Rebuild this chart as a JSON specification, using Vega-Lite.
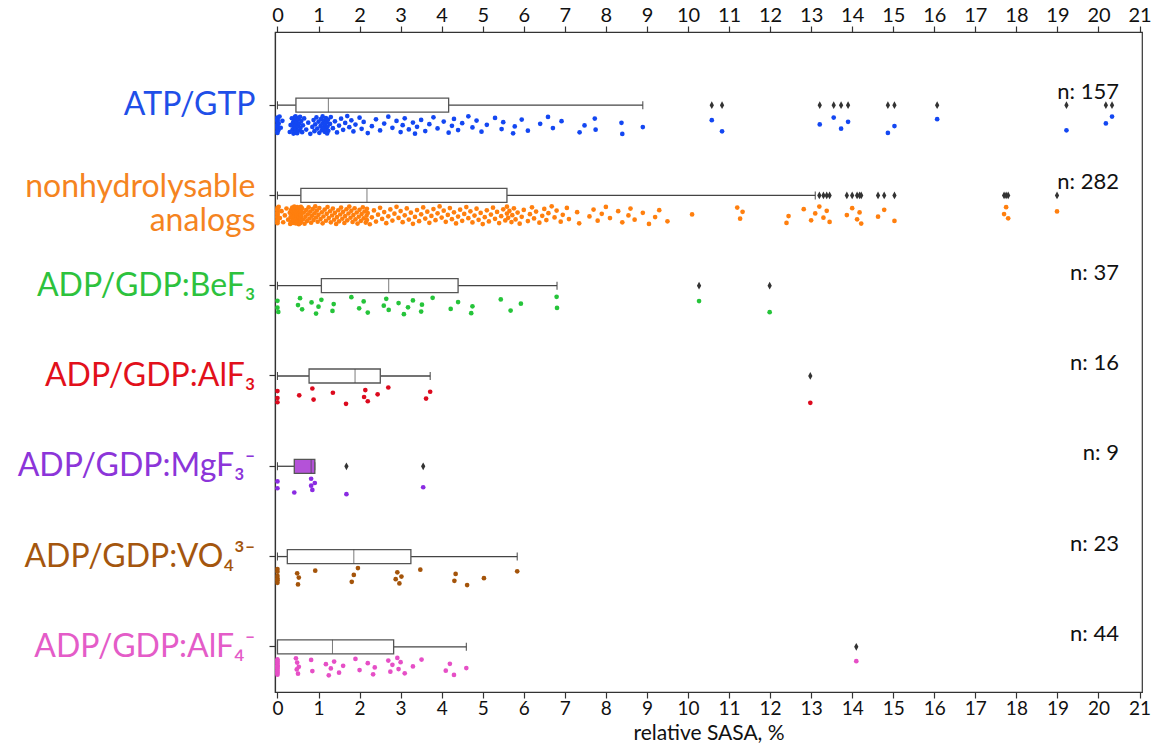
{
"$schema": "https://vega.github.io/schema/vega-lite/v6.json",
"width": 867, "height": 660,
"autosize": "none",
"padding": {"left": 275, "top": 32, "right": 12, "bottom": 52},
"background": "white",
"config": {"view": {"stroke": "#333", "strokeWidth": 1.2}, "font": "Lato",
  "axis": {"labelFont": "Lato", "titleFont": "Lato", "domainColor": "#333", "tickColor": "#333", "titleColor": "#111", "grid": false, "domainWidth": 1.2, "tickWidth": 1.2}},
"data": {"values": [
{"g":"ATP","v":0},{"g":"ATP","v":0},{"g":"ATP","v":0},{"g":"ATP","v":0},{"g":"ATP","v":0},{"g":"ATP","v":0},{"g":"ATP","v":0},{"g":"ATP","v":0},{"g":"ATP","v":0},{"g":"ATP","v":0},
{"g":"ATP","v":0.02},{"g":"ATP","v":0.03},{"g":"ATP","v":0.05},{"g":"ATP","v":0.08},{"g":"ATP","v":0.12},
{"g":"ATP","v":0.3},{"g":"ATP","v":0.32},{"g":"ATP","v":0.35},{"g":"ATP","v":0.37},{"g":"ATP","v":0.38},{"g":"ATP","v":0.39},{"g":"ATP","v":0.4},{"g":"ATP","v":0.4},{"g":"ATP","v":0.41},{"g":"ATP","v":0.41},{"g":"ATP","v":0.42},{"g":"ATP","v":0.42},{"g":"ATP","v":0.43},{"g":"ATP","v":0.43},{"g":"ATP","v":0.43},{"g":"ATP","v":0.44},{"g":"ATP","v":0.44},{"g":"ATP","v":0.44},{"g":"ATP","v":0.44},{"g":"ATP","v":0.45},{"g":"ATP","v":0.45},{"g":"ATP","v":0.45},{"g":"ATP","v":0.45},{"g":"ATP","v":0.45},{"g":"ATP","v":0.45},
{"g":"ATP","v":0.47},{"g":"ATP","v":0.48},{"g":"ATP","v":0.5},{"g":"ATP","v":0.5},{"g":"ATP","v":0.52},{"g":"ATP","v":0.53},{"g":"ATP","v":0.55},{"g":"ATP","v":0.56},{"g":"ATP","v":0.58},{"g":"ATP","v":0.6},{"g":"ATP","v":0.62},{"g":"ATP","v":0.65},{"g":"ATP","v":0.7},{"g":"ATP","v":0.75},{"g":"ATP","v":0.8},{"g":"ATP","v":0.85},{"g":"ATP","v":0.88},{"g":"ATP","v":0.9},{"g":"ATP","v":0.92},{"g":"ATP","v":0.95},{"g":"ATP","v":0.97},{"g":"ATP","v":1.0},{"g":"ATP","v":1.02},{"g":"ATP","v":1.05},{"g":"ATP","v":1.06},{"g":"ATP","v":1.08},{"g":"ATP","v":1.1},{"g":"ATP","v":1.1},{"g":"ATP","v":1.12},{"g":"ATP","v":1.13},{"g":"ATP","v":1.15},{"g":"ATP","v":1.16},{"g":"ATP","v":1.18},{"g":"ATP","v":1.19},{"g":"ATP","v":1.2},{"g":"ATP","v":1.21},{"g":"ATP","v":1.22},{"g":"ATP","v":1.23},{"g":"ATP","v":1.24},
{"g":"ATP","v":1.28},{"g":"ATP","v":1.3},{"g":"ATP","v":1.35},{"g":"ATP","v":1.4},{"g":"ATP","v":1.45},{"g":"ATP","v":1.5},{"g":"ATP","v":1.55},{"g":"ATP","v":1.6},{"g":"ATP","v":1.65},{"g":"ATP","v":1.7},{"g":"ATP","v":1.75},{"g":"ATP","v":1.8},{"g":"ATP","v":1.85},{"g":"ATP","v":1.9},{"g":"ATP","v":2.0},{"g":"ATP","v":2.05},{"g":"ATP","v":2.1},{"g":"ATP","v":2.2},{"g":"ATP","v":2.3},{"g":"ATP","v":2.4},{"g":"ATP","v":2.5},{"g":"ATP","v":2.6},{"g":"ATP","v":2.7},{"g":"ATP","v":2.8},{"g":"ATP","v":2.9},{"g":"ATP","v":3.0},{"g":"ATP","v":3.05},{"g":"ATP","v":3.1},{"g":"ATP","v":3.2},{"g":"ATP","v":3.3},{"g":"ATP","v":3.35},{"g":"ATP","v":3.4},{"g":"ATP","v":3.5},{"g":"ATP","v":3.6},{"g":"ATP","v":3.7},{"g":"ATP","v":3.8},{"g":"ATP","v":3.9},{"g":"ATP","v":4.05},{"g":"ATP","v":4.17},
{"g":"ATP","v":4.25},{"g":"ATP","v":4.3},{"g":"ATP","v":4.4},{"g":"ATP","v":4.5},{"g":"ATP","v":4.65},{"g":"ATP","v":4.75},{"g":"ATP","v":4.85},{"g":"ATP","v":4.97},{"g":"ATP","v":5.1},{"g":"ATP","v":5.3},{"g":"ATP","v":5.46},{"g":"ATP","v":5.5},{"g":"ATP","v":5.74},{"g":"ATP","v":5.78},{"g":"ATP","v":5.95},{"g":"ATP","v":6.1},{"g":"ATP","v":6.4},{"g":"ATP","v":6.59},{"g":"ATP","v":6.71},{"g":"ATP","v":6.92},{"g":"ATP","v":7.36},{"g":"ATP","v":7.48},{"g":"ATP","v":7.73},{"g":"ATP","v":7.75},{"g":"ATP","v":8.38},{"g":"ATP","v":8.4},{"g":"ATP","v":8.9},
{"g":"ATP","v":10.58},{"g":"ATP","v":10.83},{"g":"ATP","v":13.21},{"g":"ATP","v":13.55},{"g":"ATP","v":13.73},{"g":"ATP","v":13.9},{"g":"ATP","v":14.87},{"g":"ATP","v":15.03},{"g":"ATP","v":16.07},{"g":"ATP","v":19.22},{"g":"ATP","v":20.18},{"g":"ATP","v":20.33},
{"g":"NHA","v":0},{"g":"NHA","v":0},{"g":"NHA","v":0},{"g":"NHA","v":0},{"g":"NHA","v":0},{"g":"NHA","v":0},{"g":"NHA","v":0},{"g":"NHA","v":0},{"g":"NHA","v":0},{"g":"NHA","v":0},{"g":"NHA","v":0},{"g":"NHA","v":0},
{"g":"NHA","v":0.03},{"g":"NHA","v":0.06},{"g":"NHA","v":0.1},{"g":"NHA","v":0.14},{"g":"NHA","v":0.18},{"g":"NHA","v":0.22},{"g":"NHA","v":0.26},{"g":"NHA","v":0.3},
{"g":"NHA","v":0.31},{"g":"NHA","v":0.32},{"g":"NHA","v":0.33},{"g":"NHA","v":0.34},{"g":"NHA","v":0.35},{"g":"NHA","v":0.36},{"g":"NHA","v":0.37},{"g":"NHA","v":0.38},{"g":"NHA","v":0.38},{"g":"NHA","v":0.39},
{"g":"NHA","v":0.4},{"g":"NHA","v":0.4},{"g":"NHA","v":0.41},{"g":"NHA","v":0.41},{"g":"NHA","v":0.42},{"g":"NHA","v":0.42},{"g":"NHA","v":0.43},{"g":"NHA","v":0.43},{"g":"NHA","v":0.44},{"g":"NHA","v":0.44},
{"g":"NHA","v":0.45},{"g":"NHA","v":0.45},{"g":"NHA","v":0.46},{"g":"NHA","v":0.46},{"g":"NHA","v":0.47},{"g":"NHA","v":0.47},{"g":"NHA","v":0.48},{"g":"NHA","v":0.48},{"g":"NHA","v":0.49},{"g":"NHA","v":0.49},
{"g":"NHA","v":0.5},{"g":"NHA","v":0.5},{"g":"NHA","v":0.51},{"g":"NHA","v":0.51},{"g":"NHA","v":0.52},{"g":"NHA","v":0.52},{"g":"NHA","v":0.53},{"g":"NHA","v":0.53},{"g":"NHA","v":0.54},{"g":"NHA","v":0.54},
{"g":"NHA","v":0.55},{"g":"NHA","v":0.55},{"g":"NHA","v":0.55},{"g":"NHA","v":0.56},{"g":"NHA","v":0.56},{"g":"NHA","v":0.56},{"g":"NHA","v":0.57},{"g":"NHA","v":0.57},{"g":"NHA","v":0.57},{"g":"NHA","v":0.57},
{"g":"NHA","v":0.57},{"g":"NHA","v":0.57},
{"g":"NHA","v":0.6},{"g":"NHA","v":0.62},{"g":"NHA","v":0.64},{"g":"NHA","v":0.66},{"g":"NHA","v":0.68},{"g":"NHA","v":0.7},{"g":"NHA","v":0.72},{"g":"NHA","v":0.74},{"g":"NHA","v":0.76},{"g":"NHA","v":0.78},
{"g":"NHA","v":0.8},{"g":"NHA","v":0.82},{"g":"NHA","v":0.84},{"g":"NHA","v":0.86},{"g":"NHA","v":0.88},{"g":"NHA","v":0.9},{"g":"NHA","v":0.92},{"g":"NHA","v":0.94},{"g":"NHA","v":0.96},{"g":"NHA","v":0.98},
{"g":"NHA","v":1.0},{"g":"NHA","v":1.02},{"g":"NHA","v":1.05},{"g":"NHA","v":1.08},{"g":"NHA","v":1.1},{"g":"NHA","v":1.12},{"g":"NHA","v":1.15},{"g":"NHA","v":1.18},{"g":"NHA","v":1.2},{"g":"NHA","v":1.22},
{"g":"NHA","v":1.25},{"g":"NHA","v":1.28},{"g":"NHA","v":1.3},{"g":"NHA","v":1.33},{"g":"NHA","v":1.35},{"g":"NHA","v":1.38},{"g":"NHA","v":1.4},{"g":"NHA","v":1.43},{"g":"NHA","v":1.45},{"g":"NHA","v":1.48},
{"g":"NHA","v":1.5},{"g":"NHA","v":1.53},{"g":"NHA","v":1.55},{"g":"NHA","v":1.58},{"g":"NHA","v":1.6},{"g":"NHA","v":1.63},{"g":"NHA","v":1.65},{"g":"NHA","v":1.68},{"g":"NHA","v":1.7},{"g":"NHA","v":1.73},
{"g":"NHA","v":1.75},{"g":"NHA","v":1.78},{"g":"NHA","v":1.8},{"g":"NHA","v":1.83},{"g":"NHA","v":1.85},{"g":"NHA","v":1.88},{"g":"NHA","v":1.9},{"g":"NHA","v":1.93},{"g":"NHA","v":1.95},{"g":"NHA","v":1.98},
{"g":"NHA","v":2.0},{"g":"NHA","v":2.03},{"g":"NHA","v":2.05},{"g":"NHA","v":2.08},{"g":"NHA","v":2.1},{"g":"NHA","v":2.12},{"g":"NHA","v":2.15},{"g":"NHA","v":2.17},
{"g":"NHA","v":2.18},{"g":"NHA","v":2.18},
{"g":"NHA","v":2.2},{"g":"NHA","v":2.25},{"g":"NHA","v":2.3},{"g":"NHA","v":2.35},{"g":"NHA","v":2.4},{"g":"NHA","v":2.45},{"g":"NHA","v":2.5},{"g":"NHA","v":2.55},{"g":"NHA","v":2.6},{"g":"NHA","v":2.65},
{"g":"NHA","v":2.7},{"g":"NHA","v":2.75},{"g":"NHA","v":2.8},{"g":"NHA","v":2.85},{"g":"NHA","v":2.9},{"g":"NHA","v":2.95},{"g":"NHA","v":3.0},{"g":"NHA","v":3.05},{"g":"NHA","v":3.1},{"g":"NHA","v":3.15},
{"g":"NHA","v":3.2},{"g":"NHA","v":3.25},{"g":"NHA","v":3.3},{"g":"NHA","v":3.35},{"g":"NHA","v":3.4},{"g":"NHA","v":3.45},{"g":"NHA","v":3.5},{"g":"NHA","v":3.55},{"g":"NHA","v":3.6},{"g":"NHA","v":3.65},
{"g":"NHA","v":3.7},{"g":"NHA","v":3.75},{"g":"NHA","v":3.8},{"g":"NHA","v":3.85},{"g":"NHA","v":3.9},{"g":"NHA","v":3.95},{"g":"NHA","v":4.0},{"g":"NHA","v":4.05},{"g":"NHA","v":4.1},{"g":"NHA","v":4.15},
{"g":"NHA","v":4.2},{"g":"NHA","v":4.25},{"g":"NHA","v":4.3},{"g":"NHA","v":4.35},{"g":"NHA","v":4.4},{"g":"NHA","v":4.45},{"g":"NHA","v":4.5},{"g":"NHA","v":4.55},{"g":"NHA","v":4.6},{"g":"NHA","v":4.65},
{"g":"NHA","v":4.7},{"g":"NHA","v":4.75},{"g":"NHA","v":4.8},{"g":"NHA","v":4.85},{"g":"NHA","v":4.9},{"g":"NHA","v":4.95},{"g":"NHA","v":5.0},{"g":"NHA","v":5.05},{"g":"NHA","v":5.1},{"g":"NHA","v":5.15},
{"g":"NHA","v":5.2},{"g":"NHA","v":5.25},{"g":"NHA","v":5.3},{"g":"NHA","v":5.35},{"g":"NHA","v":5.4},{"g":"NHA","v":5.45},{"g":"NHA","v":5.5},{"g":"NHA","v":5.55},
{"g":"NHA","v":5.59},{"g":"NHA","v":5.59},
{"g":"NHA","v":5.62},{"g":"NHA","v":5.65},{"g":"NHA","v":5.7},{"g":"NHA","v":5.72},{"g":"NHA","v":5.76},{"g":"NHA","v":5.8},{"g":"NHA","v":5.85},{"g":"NHA","v":5.9},{"g":"NHA","v":5.95},{"g":"NHA","v":6.0},
{"g":"NHA","v":6.1},{"g":"NHA","v":6.15},{"g":"NHA","v":6.2},{"g":"NHA","v":6.25},{"g":"NHA","v":6.3},{"g":"NHA","v":6.38},{"g":"NHA","v":6.45},{"g":"NHA","v":6.5},{"g":"NHA","v":6.55},{"g":"NHA","v":6.6},
{"g":"NHA","v":6.68},{"g":"NHA","v":6.75},{"g":"NHA","v":6.8},{"g":"NHA","v":6.9},{"g":"NHA","v":6.95},{"g":"NHA","v":7.05},{"g":"NHA","v":7.1},{"g":"NHA","v":7.3},{"g":"NHA","v":7.35},{"g":"NHA","v":7.6},
{"g":"NHA","v":7.7},{"g":"NHA","v":7.8},{"g":"NHA","v":7.9},{"g":"NHA","v":8.0},{"g":"NHA","v":8.1},{"g":"NHA","v":8.3},{"g":"NHA","v":8.4},{"g":"NHA","v":8.55},{"g":"NHA","v":8.6},{"g":"NHA","v":8.7},
{"g":"NHA","v":8.9},{"g":"NHA","v":9.05},{"g":"NHA","v":9.2},{"g":"NHA","v":9.3},{"g":"NHA","v":9.5},{"g":"NHA","v":10.1},{"g":"NHA","v":11.2},{"g":"NHA","v":11.27},{"g":"NHA","v":11.33},{"g":"NHA","v":12.4},
{"g":"NHA","v":12.45},{"g":"NHA","v":12.82},{"g":"NHA","v":13.0},{"g":"NHA","v":13.1},
{"g":"NHA","v":13.2},{"g":"NHA","v":13.3},{"g":"NHA","v":13.38},{"g":"NHA","v":13.45},{"g":"NHA","v":13.87},{"g":"NHA","v":14.0},{"g":"NHA","v":14.12},{"g":"NHA","v":14.18},{"g":"NHA","v":14.22},{"g":"NHA","v":14.63},{"g":"NHA","v":14.78},{"g":"NHA","v":15.03},{"g":"NHA","v":17.7},{"g":"NHA","v":17.75},{"g":"NHA","v":17.8},{"g":"NHA","v":18.99},
{"g":"BeF3","v":0},{"g":"BeF3","v":0},{"g":"BeF3","v":0.02},{"g":"BeF3","v":0.5},{"g":"BeF3","v":0.55},{"g":"BeF3","v":0.6},{"g":"BeF3","v":0.83},{"g":"BeF3","v":0.94},{"g":"BeF3","v":1.0},{"g":"BeF3","v":1.07},
{"g":"BeF3","v":1.34},{"g":"BeF3","v":1.37},{"g":"BeF3","v":1.8},{"g":"BeF3","v":1.99},{"g":"BeF3","v":2.1},{"g":"BeF3","v":2.2},{"g":"BeF3","v":2.59},{"g":"BeF3","v":2.65},{"g":"BeF3","v":2.71},
{"g":"BeF3","v":2.95},{"g":"BeF3","v":3.08},{"g":"BeF3","v":3.18},{"g":"BeF3","v":3.3},{"g":"BeF3","v":3.5},{"g":"BeF3","v":3.52},{"g":"BeF3","v":3.78},{"g":"BeF3","v":4.22},{"g":"BeF3","v":4.4},
{"g":"BeF3","v":4.72},{"g":"BeF3","v":4.75},{"g":"BeF3","v":5.44},{"g":"BeF3","v":5.68},{"g":"BeF3","v":5.93},{"g":"BeF3","v":6.8},{"g":"BeF3","v":6.81},{"g":"BeF3","v":10.27},{"g":"BeF3","v":11.99},
{"g":"AlF3","v":0},{"g":"AlF3","v":0},{"g":"AlF3","v":0},{"g":"AlF3","v":0.53},{"g":"AlF3","v":0.85},{"g":"AlF3","v":0.88},{"g":"AlF3","v":1.35},{"g":"AlF3","v":1.67},{"g":"AlF3","v":2.11},{"g":"AlF3","v":2.14},{"g":"AlF3","v":2.2},{"g":"AlF3","v":2.44},{"g":"AlF3","v":2.7},{"g":"AlF3","v":3.62},{"g":"AlF3","v":3.72},{"g":"AlF3","v":12.98},
{"g":"MgF3","v":0},{"g":"MgF3","v":0},{"g":"MgF3","v":0.41},{"g":"MgF3","v":0.82},{"g":"MgF3","v":0.82},{"g":"MgF3","v":0.85},{"g":"MgF3","v":0.91},{"g":"MgF3","v":1.68},{"g":"MgF3","v":3.55},
{"g":"VO4","v":0},{"g":"VO4","v":0},{"g":"VO4","v":0},{"g":"VO4","v":0},{"g":"VO4","v":0},{"g":"VO4","v":0},{"g":"VO4","v":0.48},{"g":"VO4","v":0.5},{"g":"VO4","v":0.52},{"g":"VO4","v":0.92},{"g":"VO4","v":1.81},{"g":"VO4","v":1.86},{"g":"VO4","v":1.96},{"g":"VO4","v":2.88},{"g":"VO4","v":2.92},{"g":"VO4","v":2.97},{"g":"VO4","v":3.02},{"g":"VO4","v":3.48},{"g":"VO4","v":4.31},{"g":"VO4","v":4.34},{"g":"VO4","v":4.62},{"g":"VO4","v":5.03},{"g":"VO4","v":5.84},
{"g":"AlF4","v":0},{"g":"AlF4","v":0},{"g":"AlF4","v":0},{"g":"AlF4","v":0},{"g":"AlF4","v":0},{"g":"AlF4","v":0},{"g":"AlF4","v":0},{"g":"AlF4","v":0},{"g":"AlF4","v":0},{"g":"AlF4","v":0},{"g":"AlF4","v":0},{"g":"AlF4","v":0},
{"g":"AlF4","v":0.45},{"g":"AlF4","v":0.47},{"g":"AlF4","v":0.48},{"g":"AlF4","v":0.5},{"g":"AlF4","v":0.52},{"g":"AlF4","v":0.82},{"g":"AlF4","v":0.85},{"g":"AlF4","v":1.18},{"g":"AlF4","v":1.25},{"g":"AlF4","v":1.3},{"g":"AlF4","v":1.38},
{"g":"AlF4","v":1.5},{"g":"AlF4","v":1.6},{"g":"AlF4","v":1.9},{"g":"AlF4","v":2.0},{"g":"AlF4","v":2.2},{"g":"AlF4","v":2.33},{"g":"AlF4","v":2.37},{"g":"AlF4","v":2.7},{"g":"AlF4","v":2.75},{"g":"AlF4","v":2.8},{"g":"AlF4","v":2.92},
{"g":"AlF4","v":2.95},{"g":"AlF4","v":3.0},{"g":"AlF4","v":3.1},{"g":"AlF4","v":3.3},{"g":"AlF4","v":3.51},{"g":"AlF4","v":4.1},{"g":"AlF4","v":4.2},{"g":"AlF4","v":4.3},{"g":"AlF4","v":4.6},{"g":"AlF4","v":14.1}
]},
"encoding": {
  "y": {"field": "g", "type": "nominal", "scale": {"domain": ["ATP","NHA","BeF3","AlF3","MgF3","VO4","AlF4"], "paddingInner": 0, "paddingOuter": 0.155, "align": 1},
     "axis": {"title": null, "labelFontSize": 32, "labelPadding": 14, "tickSize": 6, "labelLimit": 400, "labelOverlap": false, "labelBound": false, "labelLineHeight": 34,
       "labelOffset": {"condition": {"test": "datum.value == 'NHA'", "value": -8}, "value": 0},
       "labelExpr": "datum.value == 'ATP' ? 'ATP/GTP' : datum.value == 'NHA' ? ['nonhydrolysable', 'analogs'] : datum.value == 'BeF3' ? 'ADP/GDP:BeF₃' : datum.value == 'AlF3' ? 'ADP/GDP:AlF₃' : datum.value == 'MgF3' ? 'ADP/GDP:MgF₃⁻' : datum.value == 'VO4' ? 'ADP/GDP:VO₄³⁻' : 'ADP/GDP:AlF₄⁻'",
       "labelColor": {"condition": [
         {"test": "datum.value == 'ATP'", "value": "#1f4fe8"},
         {"test": "datum.value == 'NHA'", "value": "#f5841f"},
         {"test": "datum.value == 'BeF3'", "value": "#2dc23d"},
         {"test": "datum.value == 'AlF3'", "value": "#e2101b"},
         {"test": "datum.value == 'MgF3'", "value": "#8c35d9"},
         {"test": "datum.value == 'VO4'", "value": "#a4560e"}
       ], "value": "#e45cc8"}}}
},
"layer": [
 {
  "transform": [{"filter": "datum.g != 'MgF3'"}],
  "mark": {"type": "boxplot", "extent": 1.5, "size": 14,
    "box": {"fill": "white", "stroke": "#555", "strokeWidth": 1.3},
    "median": {"color": "#444", "strokeWidth": 1.4},
    "rule": {"color": "#444", "strokeWidth": 1.3},
    "ticks": {"color": "#444", "size": 8, "strokeWidth": 1.3},
    "outliers": {"shape": "M0,-1L0.55,0L0,1L-0.55,0Z", "filled": true, "color": "#333", "size": 60, "opacity": 1}},
  "encoding": {
   "x": {"field": "v", "type": "quantitative", "scale": {"domain": [-0.06, 21.06], "nice": false, "zero": false}, "axis": null}
  }
 },
 {
  "transform": [{"filter": "datum.g == 'MgF3'"}],
  "mark": {"type": "boxplot", "extent": 1.5, "size": 14,
    "box": {"fill": "#b452d8", "stroke": "#555", "strokeWidth": 1.3},
    "median": {"color": "#444", "strokeWidth": 1.4},
    "rule": {"color": "#444", "strokeWidth": 1.3},
    "ticks": {"color": "#444", "size": 8, "strokeWidth": 1.3},
    "outliers": {"shape": "M0,-1L0.55,0L0,1L-0.55,0Z", "filled": true, "color": "#333", "size": 60, "opacity": 1}},
  "encoding": {
   "x": {"field": "v", "type": "quantitative", "scale": {"domain": [-0.06, 21.06], "nice": false, "zero": false}, "axis": null}
  }
 },
 {
  "transform": [
    {"window": [{"op": "row_number", "as": "rn"}], "groupby": ["g"]},
    {"calculate": "(datum.rn * 0.6180339887) % 1", "as": "jit"}
  ],
  "mark": {"type": "point", "filled": true, "size": 22, "opacity": 1},
  "encoding": {
   "x": {"field": "v", "type": "quantitative", "scale": {"domain": [-0.06, 21.06], "nice": false, "zero": false},
     "axis": {"orient": "top", "values": [0,1,2,3,4,5,6,7,8,9,10,11,12,13,14,15,16,17,18,19,20,21], "format": "d", "labelFontSize": 20, "labelColor": "#111", "labelFlush": false, "tickSize": 6, "labelPadding": 1, "title": null}},
   "yOffset": {"field": "jit", "type": "quantitative", "scale": {"domain": [0, 1], "range": [56, 74]}},
   "color": {"field": "g", "type": "nominal", "legend": null,
     "scale": {"domain": ["ATP","NHA","BeF3","AlF3","MgF3","VO4","AlF4"], "range": ["#1347f2","#ff7f0e","#25c43a","#dc0a1e","#8a2be2","#a4540a","#e64fc6"]}}
  }
 },
 {
  "transform": [
    {"aggregate": [{"op": "count", "as": "n"}], "groupby": ["g"]},
    {"calculate": "'n: ' + datum.n", "as": "lab"}
  ],
  "mark": {"type": "text", "align": "right", "baseline": "middle", "dy": -13, "fontSize": 22, "font": "Lato", "color": "#111"},
  "encoding": {
   "x": {"datum": 20.5, "type": "quantitative", "scale": {"domain": [-0.06, 21.06], "nice": false, "zero": false},
     "axis": {"orient": "bottom", "values": [0,1,2,3,4,5,6,7,8,9,10,11,12,13,14,15,16,17,18,19,20,21], "format": "d", "labelFontSize": 19, "labelColor": "#111", "labelFlush": false, "tickSize": 6, "labelPadding": 1, "title": "relative SASA, %", "titleFontSize": 21, "titleFontWeight": "normal", "titlePadding": 4}},
   "text": {"field": "lab", "type": "nominal"}
  }
 }
],
"resolve": {"axis": {"x": "independent"}}
}
